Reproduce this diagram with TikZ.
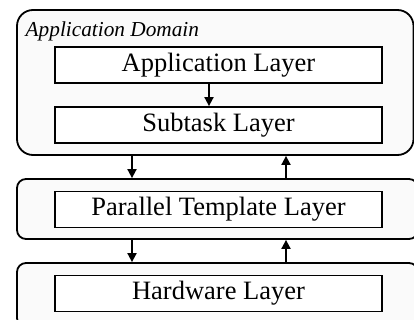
\documentclass[tikz,border=0pt]{standalone}
\usepackage{fontspec}
\setmainfont{Liberation Serif}
\usetikzlibrary{arrows.meta}
\tikzset{
  outerbox/.style={draw, line width=1.8pt, fill=gray!4},
  layerbox/.style={draw, line width=1.8pt, fill=white, minimum width=327pt,
    minimum height=36pt, inner sep=0pt, font=\fontsize{26.5}{30}\selectfont},
  arr/.style={line width=1.8pt, -{Triangle[width=9pt,length=9pt]}}
}
\begin{document}
\begin{tikzpicture}[x=1pt,y=-1pt]
\useasboundingbox (0,0) rectangle (414,320);

\node[outerbox, rounded corners=16pt, minimum width=396.5pt, minimum height=145pt]
  (dom) at (215.25,82.5) {};
\node[outerbox, rounded corners=9pt, minimum width=401pt, minimum height=60pt]
  (tmpl) at (217.5,209) {};
\node[outerbox, rounded corners=9pt, minimum width=401pt, minimum height=64pt]
  (hw) at (217.5,295) {};

\node[anchor=base west, inner sep=0pt, font=\itshape\fontsize{21.3}{24}\selectfont]
  (domlabel) at (25.5,36.7) {Application Domain};

\node[layerbox] (app) at (218.5,65) {Application Layer};
\node[layerbox] (sub) at (218.5,125) {Subtask Layer};
\node[layerbox] (ptl) at (218.5,209.5) {Parallel Template Layer};
\node[layerbox] (hwl) at (218.5,293.5) {Hardware Layer};

\coordinate (mx) at (209,0);
\coordinate (lx) at (132,0);
\coordinate (rx) at (286,0);

\draw[arr] (app.south -| mx) -- (sub.north -| mx);

\foreach \a/\b in {dom/tmpl, tmpl/hw}
{
\draw[arr] (\a.south -| lx) -- (\b.north -| lx);
\draw[arr] (\b.north -| rx) -- (\a.south -| rx);
}
\end{tikzpicture}
\end{document}
